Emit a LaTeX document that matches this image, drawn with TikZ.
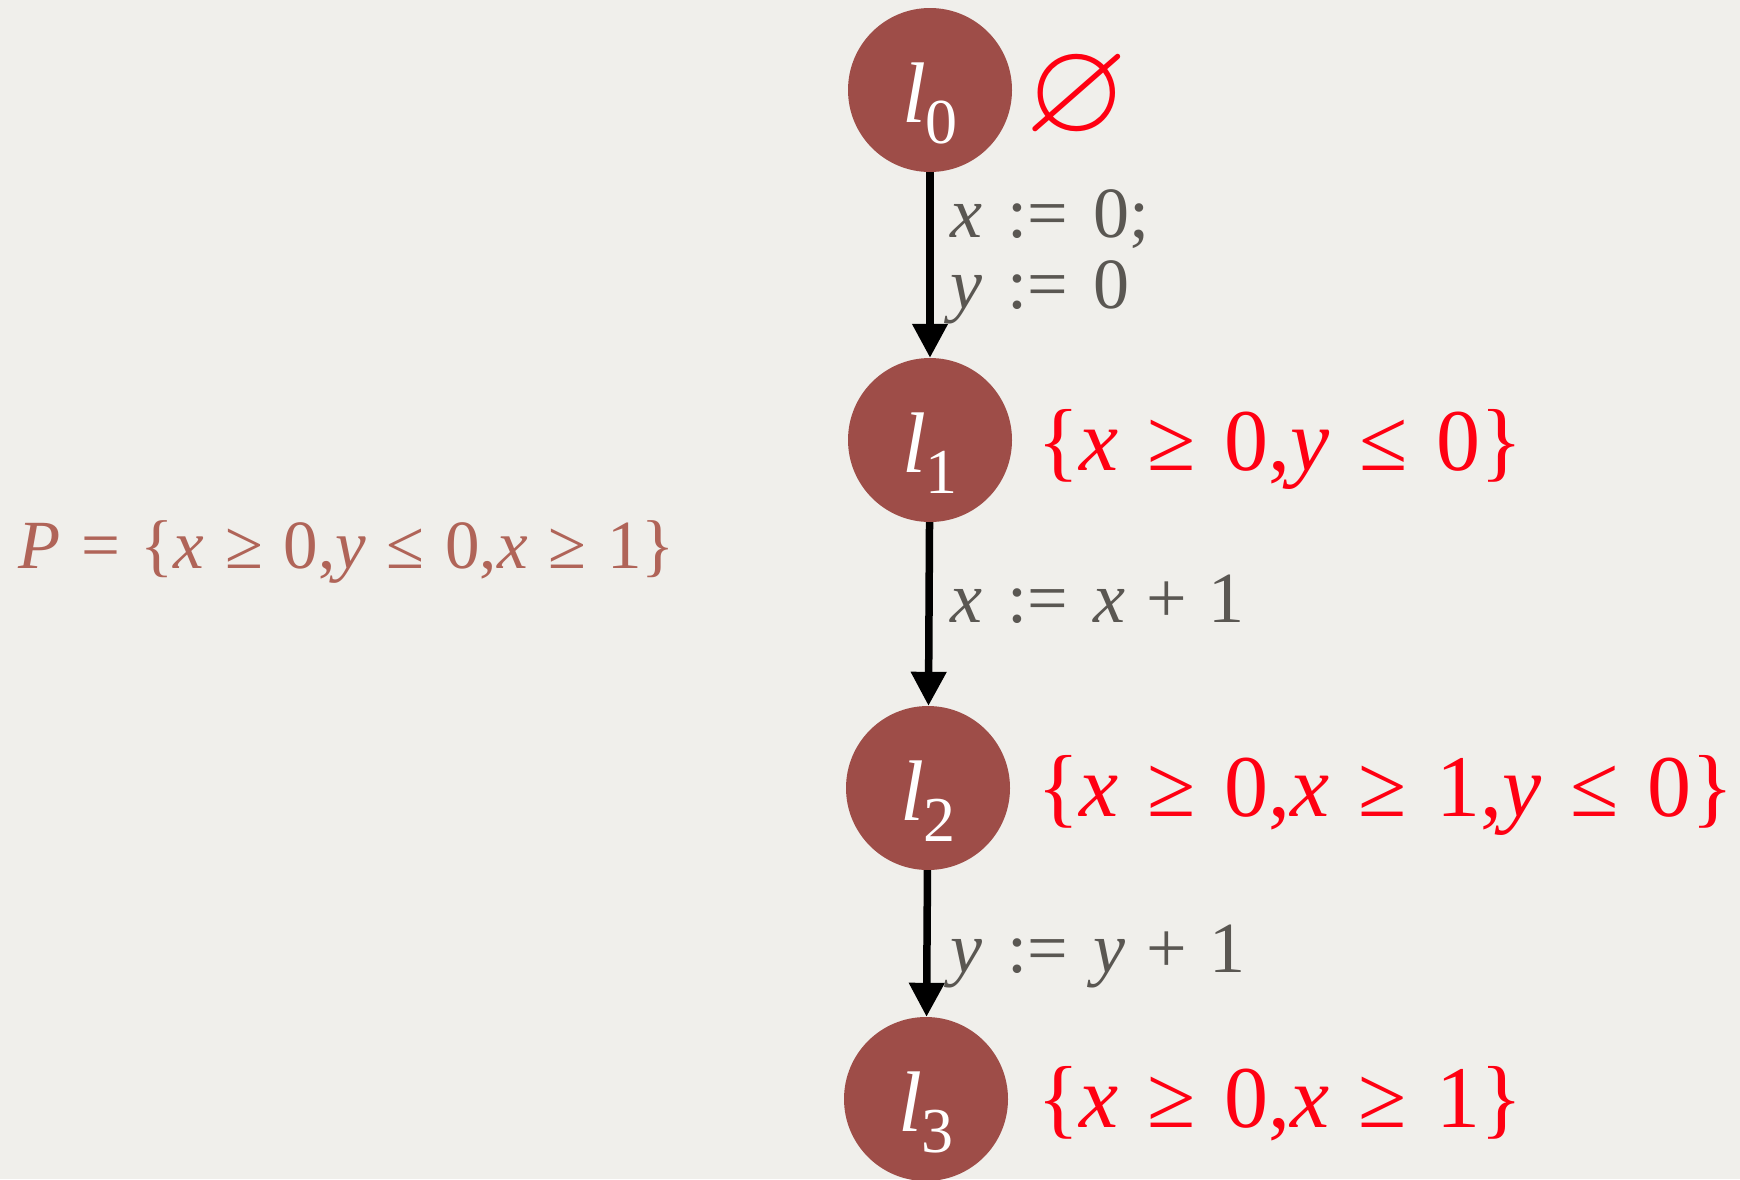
\documentclass[tikz,border=0pt]{standalone}
\usepackage{amssymb}
\usepackage{fontspec}
\setmainfont{Liberation Serif}
\usetikzlibrary{arrows.meta}

\definecolor{paper}{RGB}{240,239,235}
\definecolor{locred}{RGB}{158,77,72}
\definecolor{opgray}{RGB}{90,87,82}
\definecolor{predcol}{RGB}{176,100,88}
\definecolor{setred}{RGB}{255,0,18}

\newcommand{\vx}{\textit{x}}
\newcommand{\vy}{\textit{y}}
\newcommand{\relgap}{.33em}
\newcommand{\rgeq}{\hspace{\relgap}≥\hspace{\relgap}}
\newcommand{\rleq}{\hspace{\relgap}≤\hspace{\relgap}}
\newcommand{\asg}{\hspace{.35em}:=\hspace{.35em}}
\newcommand{\lplus}{\hspace{.3em}+\hspace{.3em}}
\newcommand{\locname}[1]{{\fontsize{86}{86}\selectfont\textit{l}}\raisebox{-21pt}{\fontsize{64}{64}\selectfont #1}}

\begin{document}
\begin{tikzpicture}[x=1pt, y=-1pt,
  loc/.style={circle, fill=locred, minimum size=164pt, inner sep=0pt, text=white, text height=64pt, text depth=0pt},
  inv/.style={anchor=base west, inner sep=0pt, text=setred, font={\fontsize{88}{88}\selectfont}},
  upd/.style={anchor=base west, inner sep=0pt, text=opgray, font={\fontsize{72}{71}\selectfont}, align=left},
  flow/.style={->, line width=7.5pt},
  >={Triangle[width=34pt,length=34pt]}]
\fill[paper] (0,0) rectangle (1740,1179);
\useasboundingbox (0,0) rectangle (1740,1179);

% locations
\node[loc] (l0) at (930,90) {\locname{0}};
\node[loc] (l1) at (930,440) {\locname{1}};
\node[loc] (l2) at (928,788) {\locname{2}};
\node[loc] (l3) at (926,1099) {\locname{3}};

% transitions
\draw[flow] (l0) -- (l1);
\draw[flow] (l1) -- (l2);
\draw[flow] (l2) -- (l3);
\node[upd] (u01) at (950,308) {\vx\asg0;\\\vy\asg0};
\node[upd] (u12) at (950,622) {\vx\asg\vx\lplus1};
\node[upd] (u23) at (950,972) {\vy\asg\vy\lplus1};

% invariants
\node[text=setred, inner sep=0pt, font={\fontsize{132}{132}\selectfont}] (s0) at (1077,98) {$\varnothing$};
\node[inv] (s1) at (1037,470) {\{\vx\rgeq0,\vy\rleq0\}};
\node[inv] (s2) at (1037,816) {\{\vx\rgeq0,\vx\rgeq1,\vy\rleq0\}};
\node[inv] (s3) at (1037,1127) {\{\vx\rgeq0,\vx\rgeq1\}};

% predicates
\node[anchor=base west, inner sep=0pt, text=predcol, font={\fontsize{69}{69}\selectfont}] (p) at (18,568)
  {\renewcommand{\relgap}{.3em}\textit{P}\hspace{.3em}=\hspace{.3em}\{\vx\rgeq0,\vy\rleq0,\vx\rgeq1\}};
\end{tikzpicture}
\end{document}
